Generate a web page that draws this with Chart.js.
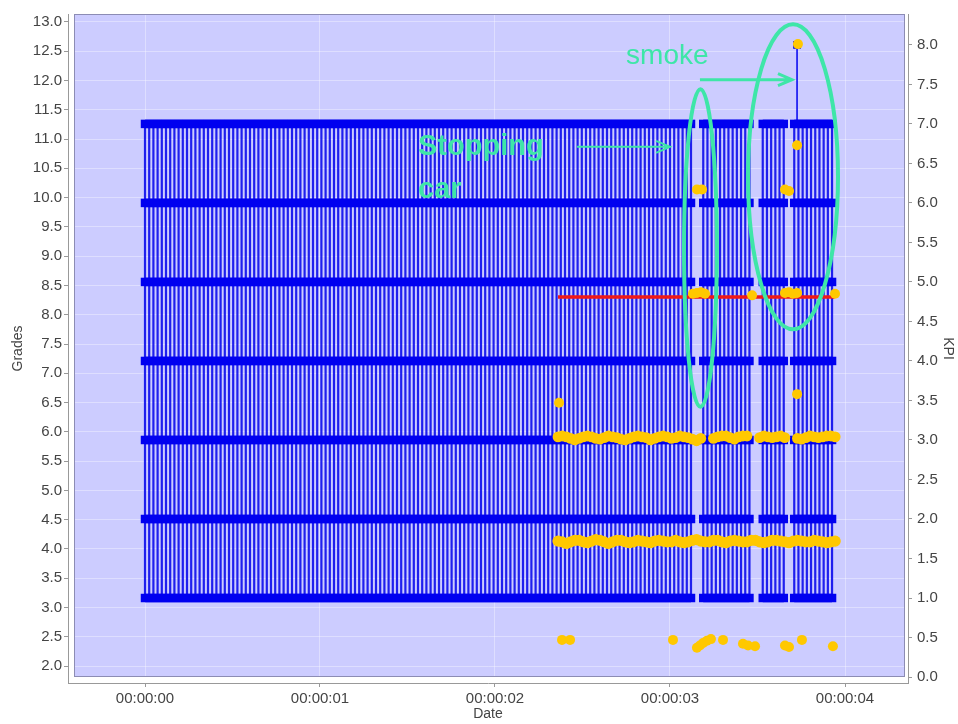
<!DOCTYPE html>
<html>
<head>
<meta charset="utf-8">
<script src="https://cdn.jsdelivr.net/npm/chart.js@4/dist/chart.umd.min.js"></script>
<style>
  html, body { margin: 0; padding: 0; background: #fff; }
</style>
</head>
<body>
<canvas id="chart" width="958" height="724"></canvas>
<script>
// ticks
const xTicks = [0, 1, 2, 3, 4];
const gradeTicks = [2.0, 2.5, 3.0, 3.5, 4.0, 4.5, 5.0, 5.5, 6.0, 6.5, 7.0, 7.5, 8.0, 8.5, 9.0, 9.5, 10.0, 10.5, 11.0, 11.5, 12.0, 12.5, 13.0];
const kpiTicks = [0.0, 0.5, 1.0, 1.5, 2.0, 2.5, 3.0, 3.5, 4.0, 4.5, 5.0, 5.5, 6.0, 6.5, 7.0, 7.5, 8.0];

// blue KPI signal: every sample sweeps through these levels
const kpiLevels = [1, 2, 3, 4, 5, 6, 7];
const sampleStep = 0.024; // seconds between samples
const blueSegStart = [0, 3.19, 3.53, 3.71];
const blueSegEnd = [3.12, 3.47, 3.65, 3.94];
const spikeTime = [3.726, 3.726];
const spikeKpi = [7, 8];

// yellow KPI bands (one value per sample from bandStart)
const bandStart = 2.36;
const bandUpper = [
  3.04, 3.05, 3.04, 3.02, 3.00, 3.02, 3.04, 3.05, 3.04, 3.02,
  3.01, 3.03, 3.05, 3.04, 3.03, 3.01, 3.00, 3.02, 3.04, 3.05,
  3.04, 3.03, 3.00, 3.02, 3.04, 3.05, 3.04, 3.02, 3.03, 3.05,
  3.04, 3.03, 3.01, 2.99, 3.02, null, null, 3.02, 3.04, 3.05,
  3.05, 3.03, 3.01, 3.04, 3.05, 3.05, null, null, 3.03, 3.05,
  3.04, 3.03, 3.04, 3.05, 3.03, null, null, 3.02, 3.01, 3.03,
  3.05, 3.04, 3.03, 3.04, 3.05, 3.05, 3.04
];
const bandLower = [
  1.72, 1.71, 1.69, 1.71, 1.73, 1.73, 1.71, 1.70, 1.72, 1.74,
  1.73, 1.71, 1.69, 1.71, 1.73, 1.73, 1.71, 1.70, 1.71, 1.73,
  1.72, 1.71, 1.70, 1.72, 1.73, 1.72, 1.71, 1.71, 1.73, 1.71,
  1.70, 1.71, 1.73, 1.74, 1.72, 1.71, 1.71, 1.73, 1.73, 1.71,
  1.70, 1.72, 1.73, 1.72, 1.71, 1.71, 1.73, 1.73, 1.71, 1.70,
  1.71, 1.73, 1.73, 1.72, 1.71, 1.70, 1.72, 1.73, 1.72, 1.71,
  1.71, 1.73, 1.72, 1.71, 1.70, 1.71, 1.72
];

// scattered yellow KPI readings
const dotTimes = [2.383, 2.429, 3.017, 3.154, 3.171, 3.189, 3.211, 3.234, 3.303, 3.417, 3.446, 3.486, 3.657, 3.68, 3.754, 3.931,
  2.366, 3.131, 3.154, 3.177, 3.2, 3.469, 3.657, 3.68, 3.703, 3.726, 3.943,
  3.154, 3.183, 3.657, 3.68, 3.726, 3.731, 3.726];
const dotKpi = [0.47, 0.47, 0.47, 0.37, 0.40, 0.43, 0.46, 0.48, 0.47, 0.42, 0.40, 0.39, 0.40, 0.38, 0.47, 0.39,
  3.47, 4.85, 4.86, 4.87, 4.85, 4.83, 4.86, 4.87, 4.85, 4.86, 4.85,
  6.17, 6.17, 6.17, 6.15, 6.73, 8.01, 3.58];

// red reference line
const redTimes = [2.36, 3.94];
const redKpi = [4.81, 4.81];

const blue = '#0000f0';
const yellow = '#ffc800';
const green = '#3ee6a8';
const axisGray = '#999';
const labelColor = '#444';
const tickFont = { family: 'Liberation Sans, Arial, sans-serif', size: 15 };
const titleFont = { family: 'Liberation Sans, Arial, sans-serif', size: 14 };

// build points
const bluePoints = [];
blueSegStart.forEach((start, s) => {
  let up = true;
  for (let t = start; t <= blueSegEnd[s] + 1e-9; t += sampleStep) {
    const lv = up ? kpiLevels : kpiLevels.slice().reverse();
    lv.forEach(v => bluePoints.push({ x: t, y: v }));
    up = !up;
  }
  bluePoints.push({ x: blueSegEnd[s] + sampleStep / 2, y: null });
});
const upperPts = bandUpper.map((v, i) => ({ x: bandStart + i * sampleStep, y: v }));
const lowerPts = bandLower.map((v, i) => ({ x: bandStart + i * sampleStep, y: v }));
const dotPts = dotTimes.map((t, i) => ({ x: t, y: dotKpi[i] }));
const redPts = redTimes.map((t, i) => ({ x: t, y: redKpi[i] }));
const spikePts = spikeTime.map((t, i) => ({ x: t, y: spikeKpi[i] }));

// hand-drawn notes, placed in data units (seconds, KPI)
const noteTexts = [
  { text: 'smoke', t: 2.749, k: 7.76, font: '28px "Liberation Sans", Arial, sans-serif' },
  { text: 'Stopping', t: 1.56, k: 6.61, font: 'bold 29px "Liberation Sans", Arial, sans-serif' },
  { text: 'car', t: 1.56, k: 6.06, font: 'bold 29px "Liberation Sans", Arial, sans-serif' }
];
const noteArrows = [
  { t0: 2.469, t1: 3.0, k: 6.71, w: 2 },
  { t0: 3.171, t1: 3.697, k: 7.56, w: 3 }
];
const noteEllipses = [
  { t: 3.174, k: 5.43, dt: 0.094, dk: 2.01 },
  { t: 3.703, k: 6.33, dt: 0.257, dk: 1.93 }
];

const plotBg = {
  id: 'plotBg',
  beforeDraw(chart) {
    const { ctx, chartArea: a } = chart;
    ctx.save();
    ctx.fillStyle = '#ccccff';
    ctx.fillRect(a.left + 6, a.top, a.width - 9, a.height - 6);
    ctx.restore();
  },
  beforeDatasetsDraw(chart) {
    const { ctx, chartArea: a } = chart;
    ctx.save();
    ctx.strokeStyle = '#8c8cb4';
    ctx.lineWidth = 1;
    ctx.strokeRect(a.left + 6.5, a.top + 0.5, a.width - 10, a.height - 7);
    ctx.restore();
  }
};

const notes = {
  id: 'notes',
  afterDatasetsDraw(chart) {
    const { ctx } = chart;
    const xs = chart.scales.x, ks = chart.scales.kpi;
    ctx.save();
    ctx.strokeStyle = green;
    ctx.fillStyle = green;
    noteEllipses.forEach(e => {
      const cx = xs.getPixelForValue(e.t), cy = ks.getPixelForValue(e.k);
      const rx = xs.getPixelForValue(e.t + e.dt) - cx;
      const ry = cy - ks.getPixelForValue(e.k + e.dk);
      ctx.lineWidth = 4;
      ctx.beginPath();
      ctx.ellipse(cx, cy, rx, ry, 0, 0, Math.PI * 2);
      ctx.stroke();
    });
    noteArrows.forEach(a => {
      const x0 = xs.getPixelForValue(a.t0), x1 = xs.getPixelForValue(a.t1), y = ks.getPixelForValue(a.k);
      ctx.lineWidth = a.w;
      ctx.beginPath();
      ctx.moveTo(x0, y); ctx.lineTo(x1, y);
      ctx.moveTo(x1 - 14, y - 6); ctx.lineTo(x1, y); ctx.lineTo(x1 - 14, y + 6);
      ctx.stroke();
    });
    ctx.textBaseline = 'alphabetic';
    ctx.textAlign = 'left';
    noteTexts.forEach(n => {
      ctx.font = n.font;
      ctx.fillText(n.text, xs.getPixelForValue(n.t), ks.getPixelForValue(n.k));
    });
    ctx.restore();
  }
};

new Chart(document.getElementById('chart'), {
  type: 'line',
  data: {
    datasets: [
      { type: 'scatter', data: dotPts, yAxisID: 'kpi', backgroundColor: yellow, pointRadius: 5, pointBorderWidth: 0 },
      { type: 'scatter', data: upperPts, yAxisID: 'kpi', backgroundColor: yellow, pointRadius: 5.4, pointBorderWidth: 0 },
      { type: 'scatter', data: lowerPts, yAxisID: 'kpi', backgroundColor: yellow, pointRadius: 5.6, pointBorderWidth: 0 },
      { data: redPts, yAxisID: 'kpi', borderColor: '#f01818', borderWidth: 3.5, pointRadius: 0 },
      { data: spikePts, yAxisID: 'kpi', borderColor: blue, backgroundColor: blue, borderWidth: 1.5,
        pointStyle: 'rect', pointRadius: [0, 5.5], pointBorderWidth: 0 },
      { data: bluePoints, yAxisID: 'kpi', borderColor: 'rgba(0,0,235,0.85)', borderWidth: 2.2,
        backgroundColor: blue, pointStyle: 'rect', pointRadius: 6, pointBorderWidth: 0, spanGaps: false }
    ]
  },
  options: {
    responsive: false,
    animation: false,
    events: [],
    layout: { padding: { top: 12, left: 0, right: 0, bottom: 0 } },
    plugins: { legend: { display: false }, tooltip: { enabled: false } },
    scales: {
      x: {
        type: 'linear', position: 'bottom', min: -0.44, max: 4.36,
        afterBuildTicks: s => { s.ticks = xTicks.map(v => ({ value: v })); },
        afterFit: s => { s.height = 41; },
        ticks: { callback: v => '00:00:0' + v, font: tickFont, color: labelColor, padding: 3, maxRotation: 0 },
        grid: { color: 'rgba(255,255,255,0.35)', tickColor: axisGray, tickLength: 4 },
        border: { color: axisGray },
        title: { display: true, text: 'Date', font: titleFont, color: labelColor, padding: { top: 0, bottom: 1 } }
      },
      grades: {
        type: 'linear', position: 'left', min: 1.7105, max: 13.136,
        afterBuildTicks: s => { s.ticks = gradeTicks.map(v => ({ value: v })); },
        afterFit: s => { s.width = 68; },
        ticks: { callback: v => v.toFixed(1), font: tickFont, color: labelColor, padding: 2 },
        grid: { color: 'rgba(255,255,255,0.35)', tickColor: axisGray, tickLength: 4 },
        border: { color: axisGray },
        title: { display: true, text: 'Grades', font: titleFont, color: labelColor, padding: { top: 9.6, bottom: 0 } }
      },
      kpi: {
        type: 'linear', position: 'right', min: -0.0757, max: 8.391,
        afterBuildTicks: s => { s.ticks = kpiTicks.map(v => ({ value: v })); },
        afterFit: s => { s.width = 50; },
        ticks: { callback: v => v.toFixed(1), font: tickFont, color: labelColor, padding: 5 },
        grid: { drawOnChartArea: false, tickColor: axisGray, tickLength: 4 },
        border: { color: axisGray },
        title: { display: true, text: 'KPI', font: titleFont, color: labelColor, padding: { top: 1.6, bottom: 0 } }
      }
    }
  },
  plugins: [plotBg, notes]
});
</script>
</body>
</html>
